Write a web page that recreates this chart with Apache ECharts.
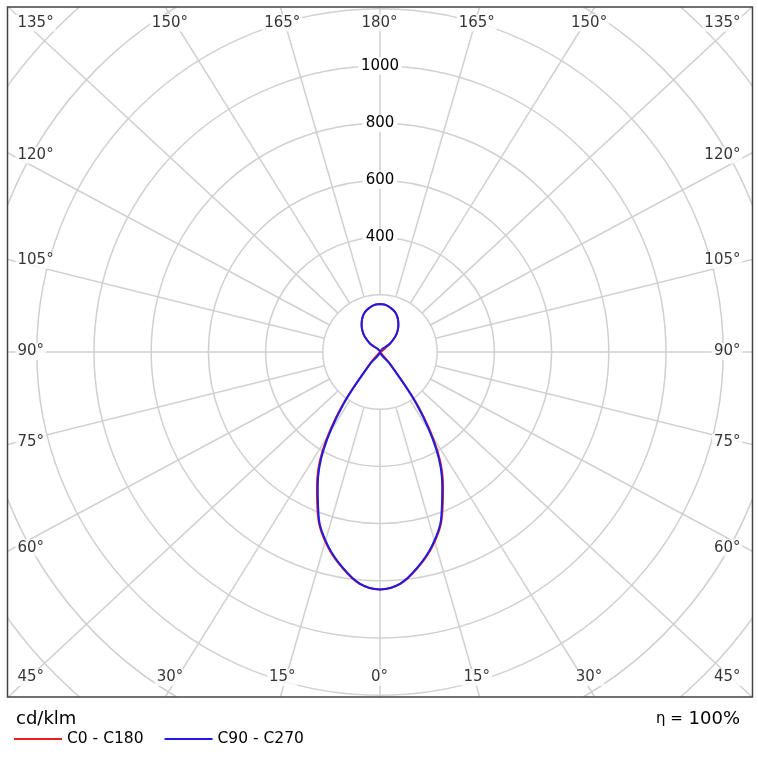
<!DOCTYPE html>
<html><head><meta charset="utf-8">
<script src="https://cdn.jsdelivr.net/npm/echarts@6/dist/echarts.min.js"></script>
<style>html,body{margin:0;padding:0;background:#fff}#c{width:758px;height:772px}</style>
</head><body><div id="c"></div>
<script>
// ---- data ----
const gammaDeg = [0,5,10,15,20,25,30,35,40,45,50,55,60,65,70,75,80,85,90,95,100,105,110,115,120,125,130,135,140,145,150,155,160,165,170,175,180];
const c0c180  = [830,814,765,705,628,522,404,236,60,2,0,0,0,0,0,0,0,0,0,0,0,0,0,0,0,0,45,75,95,112,127,140,150,157,163,167,168];
const c90c270 = [830,813,763,702,624,515,395,225,50,0,0,0,0,0,0,0,0,0,0,0,0,0,0,0,0,0,45,75,95,112,127,140,150,157,163,167,168];
const angleTickLabels = [0,15,30,45,60,75,90,105,120,135,150,165,180];
const ringTickLabels = [400,600,800,1000];
const seriesNames = ['C0 - C180','C90 - C270'];
const unitText = 'cd/klm';
const etaText = '100%';

// ---- layout ----
const FONT = 'DejaVu Sans';
const CX = 380, CY = 352, RMAX = 2000, RPX = 572, K = RPX / RMAX;
const BOX = {x: 7.5, y: 7, w: 745, h: 690};
const RING0 = 200;
const GRID = '#d0d0d0';

function squareMap(a, w, h) {
  const r = a * Math.PI / 180, s = Math.sin(r), c = Math.cos(r);
  const m = Math.max(Math.abs(s), Math.abs(c));
  return [w * s / m, -h * c / m];
}
function toPolar(dx, dy) {
  let t = Math.atan2(dx, -dy) * 180 / Math.PI;
  if (t < 0) t += 360;
  return [Math.hypot(dx, dy) / K, t];
}
// directions (clockwise from top) for every tick on both sides
const dirs = [];
angleTickLabels.forEach(g => {
  dirs.push({g, a: 180 - g});
  if (g !== 0 && g !== 180) dirs.push({g, a: 180 + g});
});

const spokeSeries = dirs.map(d => {
  const p = squareMap(d.a, 372, 345);
  const t = toPolar(p[0], p[1])[1];
  return {
    type: 'line', coordinateSystem: 'polar', polarIndex: 0, z: 1,
    symbol: 'none', silent: true, clip: false,
    lineStyle: {color: GRID, width: 1.5},
    data: [[RING0, t], [RMAX, t]]
  };
});

const labelData = dirs.map(d => {
  const r = d.a * Math.PI / 180, s = Math.sin(r), c = Math.cos(r);
  let x, y, align;
  if (Math.abs(s) < Math.abs(c) - 1e-9) {
    x = CX + 363 * s / Math.abs(c);
    y = c > 0 ? 23.5 : 678;
    align = 'center';
  } else {
    x = s > 0 ? 743 : 16;
    y = CY - 340 * c / Math.abs(s);
    y = Math.max(23.5, Math.min(678, y));
    align = s > 0 ? 'right' : 'left';
  }
  return {
    name: d.g + '°',
    value: toPolar(x - CX, y - CY),
    label: {align}
  };
});

function buildLoop(vals) {
  const pts = [];
  for (let i = gammaDeg.length - 1; i >= 0; i--) pts.push([vals[i], 180 + gammaDeg[i]]);
  for (let i = 1; i < gammaDeg.length; i++) pts.push([vals[i], 180 - gammaDeg[i]]);
  return pts;
}

const chart = echarts.init(document.getElementById('c'), null, {renderer: 'canvas'});
chart.setOption({
  animation: false,
  backgroundColor: '#fff',
  textStyle: {fontFamily: FONT},
  polar: [
    {center: [CX, CY], radius: RPX},
    {center: [CX, CY], radius: [400 * K, 1000 * K]}
  ],
  angleAxis: [
    {polarIndex: 0, type: 'value', min: 0, max: 360, startAngle: 90, clockwise: true,
     axisLine: {show: false}, axisTick: {show: false}, axisLabel: {show: false}, splitLine: {show: false}},
    {polarIndex: 1, type: 'value', min: 0, max: 360, startAngle: 90, clockwise: true,
     axisLine: {show: false}, axisTick: {show: false}, axisLabel: {show: false}, splitLine: {show: false}}
  ],
  radiusAxis: [
    {polarIndex: 0, type: 'value', min: 0, max: RMAX, interval: 200, z: 0,
     axisLine: {show: false}, axisTick: {show: false}, axisLabel: {show: false},
     splitLine: {show: true, lineStyle: {color: GRID, width: 1.5}}},
    {polarIndex: 1, type: 'value', min: ringTickLabels[0], max: ringTickLabels[ringTickLabels.length - 1], interval: 200, z: 10,
     axisLine: {show: false}, axisTick: {show: false}, splitLine: {show: false},
     axisLabel: {show: true, margin: 0, align: 'center', verticalAlign: 'middle',
       formatter: v => String(v),
       fontFamily: FONT, fontSize: 15, color: '#000', backgroundColor: '#fff', padding: [1, 3]}}
  ],
  legend: {
    data: seriesNames, left: 14, top: 731, padding: 0, z: 60,
    icon: 'rect', itemWidth: 48, itemHeight: 2, itemGap: 21,
    textStyle: {fontFamily: FONT, fontSize: 15.5, color: '#000'}
  },
  title: [
    {text: unitText, left: 16, top: 710, padding: 0, z: 60,
     textStyle: {fontFamily: FONT, fontSize: 18, fontWeight: 'normal', color: '#000'}},
    {text: '{a|η =} {b|' + etaText + '}', right: 18, top: 710, padding: 0, z: 60,
     textStyle: {fontFamily: FONT, fontWeight: 'normal', color: '#000',
       rich: {a: {fontFamily: FONT, fontSize: 15, color: '#000'}, b: {fontFamily: FONT, fontSize: 18, color: '#000'}}}}
  ],
  graphic: [
    {type: 'rect', z: 50, silent: true, shape: {x: 0, y: 0, width: 758, height: BOX.y}, style: {fill: '#fff'}},
    {type: 'rect', z: 50, silent: true, shape: {x: 0, y: 0, width: BOX.x, height: 772}, style: {fill: '#fff'}},
    {type: 'rect', z: 50, silent: true, shape: {x: BOX.x + BOX.w, y: 0, width: 20, height: 772}, style: {fill: '#fff'}},
    {type: 'rect', z: 50, silent: true, shape: {x: 0, y: BOX.y + BOX.h, width: 758, height: 100}, style: {fill: '#fff'}},
    {type: 'rect', z: 51, silent: true, shape: {x: BOX.x, y: BOX.y, width: BOX.w, height: BOX.h},
     style: {fill: 'none', stroke: '#444', lineWidth: 1.5}}
  ],
  series: spokeSeries.concat([
    {name: seriesNames[0], type: 'line', coordinateSystem: 'polar', polarIndex: 0, z: 3,
     symbol: 'none', clip: false, smooth: 0.35, lineStyle: {color: '#ee1c1c', width: 2}, itemStyle: {color: '#ee1c1c'},
     data: buildLoop(c0c180)},
    {name: seriesNames[1], type: 'line', coordinateSystem: 'polar', polarIndex: 0, z: 4,
     symbol: 'none', clip: false, smooth: 0.35, lineStyle: {color: '#1c1ce6', width: 2}, itemStyle: {color: '#1c1ce6'},
     data: buildLoop(c90c270)},
    {type: 'scatter', coordinateSystem: 'polar', polarIndex: 0, z: 5, silent: true,
     symbol: 'circle', symbolSize: 1, itemStyle: {color: 'rgba(0,0,0,0)'},
     label: {show: true, position: [0, 0], verticalAlign: 'middle', formatter: '{b}',
       fontFamily: FONT, fontSize: 15, color: '#000', backgroundColor: '#fff', padding: [1, 2]},
     data: labelData}
  ])
});
</script></body></html>
